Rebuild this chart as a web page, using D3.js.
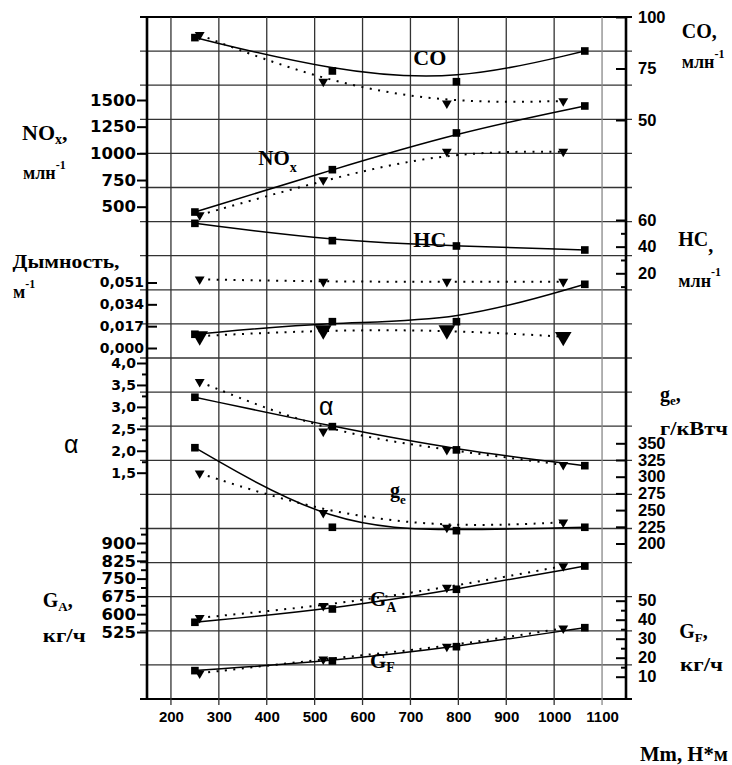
<!DOCTYPE html>
<html><head><meta charset="utf-8">
<script src="https://cdn.jsdelivr.net/npm/d3@7"></script>
<style>body{margin:0;background:#fff}svg{display:block}</style>
</head><body>
<svg id="c" width="732" height="765"></svg>
<script>
// ---------- data ----------
const xTicks = [200,300,400,500,600,700,800,900,1000,1100];
const xSq  = [250, 537, 796, 1064];   // square markers (solid B-spline)
const xTri = [260, 518, 776, 1019];   // triangle markers (dotted B-spline)

const coSq = [90.0, 73.8, 68.6, 83.5];
const coTri = [91.3, 68.6, 58.1, 59.2];
const noxSq = [450, 847, 1191, 1444];
const noxTri = [422, 750, 1016, 1016];
const hcSq = [57.5, 44.5, 40.5, 37.5];
const hcTri = [15.5, 13.7, 13.7, 13.7];
const smokeSq = [0.0107, 0.0205, 0.0205, 0.0496];
const smokeTri = [0.0093, 0.0140, 0.0140, 0.0088];
const alphaSq = [3.22, 2.55, 2.02, 1.66];
const alphaTri = [3.57, 2.44, 2.02, 1.68];
const geSq = [343.4, 224.3, 219.2, 224.3];
const geTri = [305, 246, 223.7, 231.7];
const gaSq = [566, 622, 705, 803];
const gaTri = [585, 635, 712, 803];
const gfSq = [13.2, 18.3, 25.8, 35.8];
const gfTri = [11.8, 19.2, 25.8, 35.5];

const noxTicks = [500,750,1000,1250,1500];
const smokeTicks = [0.000,0.017,0.034,0.051];
const alphaTicks = [1.5,2.0,2.5,3.0,3.5,4.0];
const alphaMinor = [1.75,2.25,2.75,3.25,3.75];
const gaTicks = [525,600,675,750,825,900];
const gaMinor = [562.5,637.5,712.5,787.5,862.5,937.5];
const coTicks = [50,75,100];
const hcTicks = [20,40,60];
const hcMinor = [10,30,50];
const geTicks = [200,225,250,275,300,325,350];
const gfTicks = [10,20,30,40,50];
const gfMinor = [15,25,35,45];

// ---------- layout ----------
const L=147, R=626, T=17, B=699;
const svg = d3.select("#c");
const x = d3.scaleLinear().domain([150,1150]).range([L,R]);
const gy = d3.scaleLinear().domain([0,20]).range([T,B]);

const yCO = d3.scaleLinear().domain([50,100]).range([120,17]);
const yNOx = d3.scaleLinear().domain([500,1500]).range([206.7,100]);
const yHC = d3.scaleLinear().domain([20,60]).range([273.3,220]);
const ySmoke = d3.scaleLinear().domain([0,0.051]).range([348,282.5]);
const yAlpha = d3.scaleLinear().domain([1.5,4]).range([472.7,363]);
const yGe = d3.scaleLinear().domain([200,350]).range([543.5,443.3]);
const yGA = d3.scaleLinear().domain([525,900]).range([632,543]);
const yGF = d3.scaleLinear().domain([10,50]).range([676.7,600.7]);

const SANS = "'Liberation Sans',Arial,sans-serif";
const DJV = "'DejaVu Sans',sans-serif";
const SERIF = "'Liberation Serif','Times New Roman',serif";

// ---------- grid ----------
const grid = svg.append("g");
grid.selectAll("line.h").data(d3.range(0,21)).join("line")
  .attr("x1",140).attr("x2",632)
  .attr("y1",d=>gy(d)).attr("y2",d=>gy(d))
  .attr("stroke",d=>(d===0||d===20)?"#000":"#333")
  .attr("stroke-width",d=>(d===0||d===20)?2.2:1.3);
grid.selectAll("line.v").data(xTicks).join("line")
  .attr("x1",d=>x(d)).attr("x2",d=>x(d))
  .attr("y1",T).attr("y2",705)
  .attr("stroke",d=>d===1100?"#888":"#333")
  .attr("stroke-width",1.3);

// ---------- series ----------
const series = [
  {sq:coSq, tri:coTri, y:yCO},
  {sq:noxSq, tri:noxTri, y:yNOx},
  {sq:hcSq, tri:hcTri, y:yHC},
  {sq:smokeSq, tri:smokeTri, y:ySmoke, big:true},
  {sq:alphaSq, tri:alphaTri, y:yAlpha},
  {sq:geSq, tri:geTri, y:yGe},
  {sq:gaSq, tri:gaTri, y:yGA},
  {sq:gfSq, tri:gfTri, y:yGF}
];

const plot = svg.append("g");
series.forEach(s=>{
  const ptsS = xSq.map((xv,i)=>[xv,s.sq[i]]);
  const ptsT = xTri.map((xv,i)=>[xv,s.tri[i]]);
  const line = d3.line().x(d=>x(d[0])).y(d=>s.y(d[1])).curve(d3.curveBasis);
  plot.append("path").attr("d", line(ptsS))
    .attr("fill","none").attr("stroke","#000").attr("stroke-width",1.5);
  plot.append("path").attr("d", line(ptsT))
    .attr("fill","none").attr("stroke","#000").attr("stroke-width",2)
    .attr("stroke-dasharray","2,6.5");
  plot.selectAll(null).data(ptsS).join("path")
    .attr("d", d3.symbol(d3.symbolSquare, 58)())
    .attr("transform", d=>`translate(${x(d[0])},${s.y(d[1])})`)
    .attr("fill","#000");
  plot.selectAll(null).data(ptsT).join("path")
    .attr("d", d3.symbol(d3.symbolTriangle, s.big?120:42)())
    .attr("transform", d=>`translate(${x(d[0])},${s.y(d[1])}) rotate(180)`)
    .attr("fill","#000");
});

// ---------- axes ----------
svg.append("line").attr("x1",L).attr("x2",L).attr("y1",T-1).attr("y2",B+1).attr("stroke","#000").attr("stroke-width",2.6);
svg.append("line").attr("x1",R).attr("x2",R).attr("y1",T-1).attr("y2",B+1).attr("stroke","#000").attr("stroke-width",2.6);

const comma = f => v => d3.format(f)(v).replace(".",",");
function axis(gen, pos, values, fmt, size, pad, font, fsz){
  const g = svg.append("g").attr("transform",`translate(${pos},0)`)
    .call(gen.tickValues(values).tickSize(size).tickPadding(pad).tickFormat(fmt));
  g.select(".domain").remove();
  g.selectAll("line").attr("stroke","#000").attr("stroke-width",2);
  g.selectAll("text").attr("font-family",font).attr("font-size",fsz)
    .attr("font-weight","bold").attr("fill","#000");
  return g;
}
// left
axis(d3.axisLeft(yNOx), L, noxTicks, d3.format("d"), 10, 1, DJV, 16.5);
axis(d3.axisLeft(ySmoke), L, smokeTicks, comma(".3f"), -10, 3, DJV, 14);
axis(d3.axisLeft(yAlpha), L, alphaTicks, comma(".1f"), 10, 1, DJV, 14);
axis(d3.axisLeft(yAlpha), L, alphaMinor, "", 5, 0, DJV, 1);
axis(d3.axisLeft(yGA), L, gaTicks, d3.format("d"), 10, 1, DJV, 16.5);
axis(d3.axisLeft(yGA), L, gaMinor, "", 6, 0, DJV, 1);
// right
axis(d3.axisRight(yCO), R, coTicks, d3.format("d"), -10, 12, SANS, 16.5);
axis(d3.axisRight(yHC), R, hcTicks, d3.format("d"), -10, 12, SANS, 16.5);
axis(d3.axisRight(yHC), R, hcMinor, "", -5, 0, SANS, 1);
axis(d3.axisRight(yGe), R, geTicks, d3.format("d"), -10, 12, SANS, 16.5);
axis(d3.axisRight(yGF), R, gfTicks, d3.format("d"), -10, 12, SANS, 16.5);
axis(d3.axisRight(yGF), R, gfMinor, "", -5, 0, SANS, 1);
// bottom
const xa = axis(d3.axisBottom(x), B, xTicks, d3.format("d"), 0, 12.5, SANS, 15);
xa.attr("transform",`translate(0,${B})`);

// ---------- texts ----------
function rich(xp, yp, parts, opt={}){
  const t = svg.append("text").attr("x",xp).attr("y",yp)
    .attr("font-family",opt.font||SERIF).attr("font-weight",opt.weight||"bold")
    .attr("fill","#000");
  let cur=0;
  parts.forEach(([txt,size,shift])=>{
    const sh = shift||0;
    t.append("tspan").attr("font-size",size).attr("dy",sh-cur).text(txt);
    cur=sh;
  });
  if(opt.len) t.attr("textLength",opt.len).attr("lengthAdjust","spacingAndGlyphs");
  return t;
}
// left titles
rich(22,139.5,[["NO",22],["x",14,4],[",",22,0]]);
rich(23,178.5,[["млн",18],["-1",12,-10]]);
rich(12.5,268,[["Дымность,",18]],{len:107});
rich(13,298,[["м",18],["-1",12,-10]]);
rich(64,453,[["α",25]],{font:SANS,weight:"normal"});
rich(42.7,606.7,[["G",20],["A",13,4],[",",20,0]]);
rich(42.7,641.7,[["кг/ч",18]],{len:43});
// right titles
rich(681.7,38.3,[["CO,",20]]);
rich(681.7,67.7,[["млн",18],["-1",12,-10]]);
rich(678.3,246,[["HC",20],[",",20,6]]);
rich(678.3,287.3,[["млн",18],["-1",12,-11]]);
rich(660,400.7,[["g",20],["e",13,4],[",",20,0]]);
rich(660,435,[["г/кВтч",18]],{len:68});
rich(679.3,638.3,[["G",20],["F",13,4],[",",20,0]]);
rich(680,670.7,[["кг/ч",18]],{len:43});
rich(640,761,[["Mm, H*м",21]],{len:88});
// in-plot labels
rich(413.3,65,[["CO",22]]);
rich(258.3,165,[["NO",21],["x",14,7]]);
rich(413.3,246.7,[["HC",22]]);
rich(319,415,[["α",25]],{font:SANS,weight:"normal"});
rich(390,496.7,[["g",20],["e",13,7]]);
rich(370,606,[["G",21],["A",14,6]]);
rich(370,668.3,[["G",21],["F",14,4]]);
</script>
</body></html>
